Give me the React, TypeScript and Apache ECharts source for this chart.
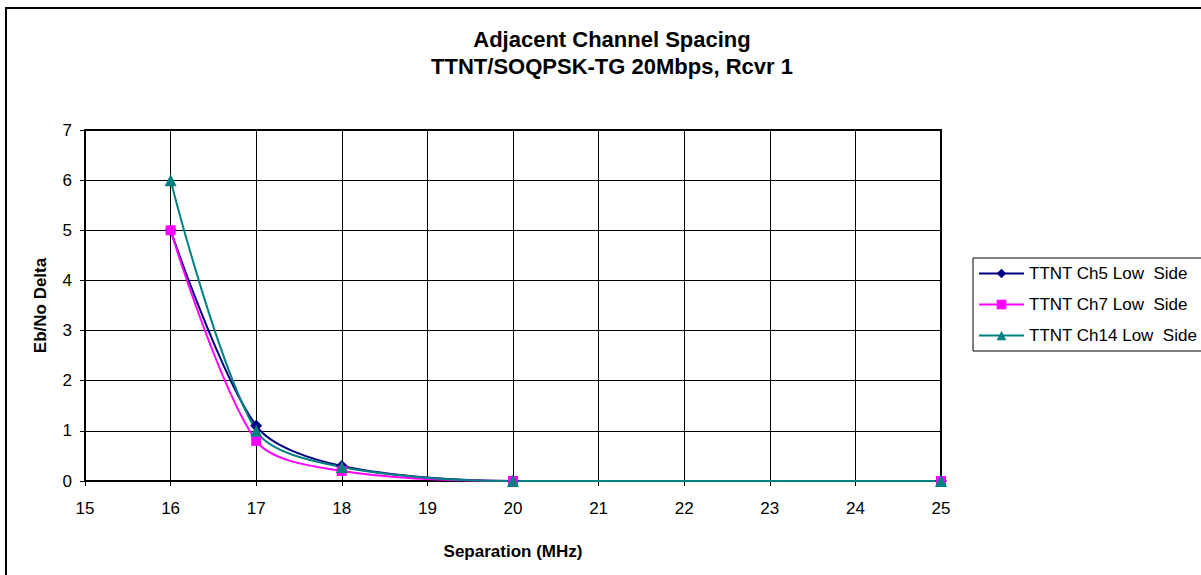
import React, { useEffect, useRef } from "react";
import * as echarts from "echarts";

const titleLines = ["Adjacent Channel Spacing", "TTNT/SOQPSK-TG 20Mbps, Rcvr 1"];
const xName = "Separation (MHz)";
const yName = "Eb/No Delta";
const seriesNames = ["TTNT Ch5 Low  Side", "TTNT Ch7 Low  Side", "TTNT Ch14 Low  Side"];
const separation = [16, 17, 18, 20, 25];
const ch5 = [5, 1.1, 0.3, 0, 0];
const ch7 = [5, 0.8, 0.2, 0, 0];
const ch14 = [6, 1.0, 0.28, 0, 0];
const colors = ["#000080", "#FF00FF", "#008080"];
const symbols = ["diamond", "rect", "triangle"];
const symbolSizes = [12, 10, 12];

const FONT = 'Arial, "Liberation Sans", sans-serif';

export default function App() {
  const ref = useRef<HTMLDivElement>(null);
  useEffect(() => {
    if (!ref.current) return;
    const chart = echarts.init(ref.current, undefined, { renderer: "svg" });
    const values = [ch5, ch7, ch14];
    chart.setOption({
      animation: false,
      backgroundColor: "#fff",
      title: {
        text: titleLines.join("\n"),
        left: 607,
        textAlign: "center",
        top: 21,
        textStyle: { fontFamily: FONT, fontSize: 22, fontWeight: "bold", color: "#000", lineHeight: 27 },
      },
      graphic: [
        {
          type: "rect",
          shape: { x: 6, y: 8, width: 1400, height: 800 },
          style: { fill: "none", stroke: "#000", lineWidth: 2 },
          silent: true,
        },
      ],
      legend: {
        orient: "vertical",
        left: 973,
        top: 258,
        padding: [7, 40, 7, 5],
        itemGap: 14,
        itemWidth: 45,
        itemHeight: 12,
        borderColor: "#000",
        borderWidth: 1,
        backgroundColor: "#fff",
        textStyle: { fontFamily: FONT, fontSize: 17, color: "#000" },
        data: seriesNames,
      },
      grid: {
        left: 85,
        right: 260,
        top: 130,
        bottom: 94,
        show: true,
        borderColor: "#000",
        borderWidth: 2,
        containLabel: false,
      },
      xAxis: {
        type: "value",
        min: 15,
        max: 25,
        interval: 1,
        name: xName,
        nameLocation: "middle",
        nameGap: 62,
        nameTextStyle: { fontFamily: FONT, fontSize: 17, fontWeight: "bold", color: "#000" },
        axisLine: { show: true, lineStyle: { color: "#000", width: 2 } },
        axisTick: { show: true, length: 5, lineStyle: { color: "#000" } },
        axisLabel: { fontFamily: FONT, fontSize: 17, color: "#000", margin: 19 },
        splitLine: { show: true, lineStyle: { color: "#000", width: 1 } },
      },
      yAxis: {
        type: "value",
        min: 0,
        max: 7,
        interval: 1,
        name: yName,
        nameLocation: "middle",
        nameGap: 36,
        nameTextStyle: { fontFamily: FONT, fontSize: 17, fontWeight: "bold", color: "#000" },
        axisLine: { show: true, lineStyle: { color: "#000", width: 2 } },
        axisTick: { show: true, length: 5, lineStyle: { color: "#000" } },
        axisLabel: { fontFamily: FONT, fontSize: 17, color: "#000", margin: 13 },
        splitLine: { show: true, lineStyle: { color: "#000", width: 1 } },
      },
      series: seriesNames.map((name, i) => ({
        name,
        type: "line",
        smooth: 0.3,
        data: separation.map((x, j) => [x, values[i][j]]),
        symbol: symbols[i],
        symbolSize: symbolSizes[i],
        showAllSymbol: true,
        lineStyle: { color: colors[i], width: 2 },
        itemStyle: { color: colors[i] },
        clip: false,
      })),
    });
    return () => chart.dispose();
  }, []);
  return (
    <div
      ref={ref}
      style={{ position: "absolute", left: 0, top: 0, width: 1201, height: 575 }}
    />
  );
}
